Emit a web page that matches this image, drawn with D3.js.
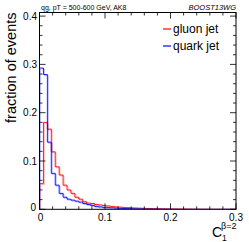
<!DOCTYPE html>
<html><head><meta charset="utf-8">
<script src="https://cdn.jsdelivr.net/npm/d3@7"></script>
<style>body{margin:0;background:#fff}svg{display:block}text{font-family:"Liberation Sans",Arial,sans-serif}</style>
</head><body>
<svg id="c" width="249" height="242"></svg>
<script>
const binWidth = 0.006;
const gluon = [0.053,0.180,0.166,0.119,0.088,0.071,0.050,0.040,0.033,0.025,0.021,0.0157,0.013,0.012,0.010,0.009,0.008,0.007,0.006,0.005,0.0045,0.004,0.0035,0.003,0.0027,0.0024,0.002,0.0018,0.0015,0.0013,0.0011,0.001,0.0008,0.0007,0.0006,0.0005,0.0004,0.0003,0.0003,0.0002,0.0002,0.0001,0.0001,0.0001,0,0,0,0,0,0];
const quark = [0.2925,0.279,0.139,0.0745,0.050,0.033,0.025,0.021,0.019,0.017,0.015,0.012,0.010,0.008,0.006,0.005,0.004,0.0035,0.003,0.0025,0.002,0.0017,0.0014,0.0012,0.001,0.0008,0.0006,0.0005,0.0004,0.0003,0.0003,0.0002,0.0002,0.0001,0.0001,0,0,0,0,0,0,0,0,0,0,0,0,0,0,0];
const xTicks = [0,0.1,0.2,0.3];
const xTickLabels = ["0","0.1","0.2","0.3"];
const yTicks = [0,0.1,0.2,0.3,0.4];
const yTickLabels = ["0","0.1","0.2","0.3","0.4"];
const seriesNames = ["gluon jet","quark jet"];
const seriesColors = ["#ff0000","#0000ff"];

const svg = d3.select("#c");
const L=39.5, R=236, T=12.5, B=209.3;
const x = d3.scaleLinear([0,0.3],[L,R]);
const y = d3.scaleLinear([0,0.4],[B,16.1]);

svg.append("clipPath").attr("id","clip").append("rect").attr("x",L).attr("y",T).attr("width",R-L).attr("height",B-T);

function pts(vals){
  const p=[[0,0]];
  vals.forEach((v,i)=>p.push([i*binWidth,v]));
  p.push([vals.length*binWidth, vals[vals.length-1]]);
  return p;
}
const line = d3.line().x(d=>x(d[0])).y(d=>y(d[1])).curve(d3.curveStepAfter);
const g = svg.append("g").attr("clip-path","url(#clip)");
[[gluon,0],[quark,1]].forEach(([vals,k])=>{
  g.append("path").attr("d",line(pts(vals))).attr("fill","none")
   .attr("stroke",seriesColors[k]).attr("stroke-opacity",0.25).attr("stroke-width",1)
   .attr("transform","translate(1,1)");
  g.append("path").attr("d",line(pts(vals))).attr("fill","none")
   .attr("stroke",seriesColors[k]).attr("stroke-width",0.9);
});

// frame
svg.append("rect").attr("x",L).attr("y",T).attr("width",R-L).attr("height",B-T)
  .attr("fill","none").attr("stroke","#000").attr("stroke-width",1);

// ticks
const tk = svg.append("g").attr("stroke","#000").attr("stroke-width",0.8);
const xMinor = d3.range(0,0.3001,0.02);
xMinor.forEach(v=>{
  const isMaj = xTicks.some(t=>Math.abs(t-v)<1e-6);
  const len = isMaj?6:3;
  tk.append("line").attr("x1",x(v)).attr("x2",x(v)).attr("y1",B).attr("y2",B-len);
  tk.append("line").attr("x1",x(v)).attr("x2",x(v)).attr("y1",T).attr("y2",T+len);
});
const yMinor = d3.range(0,0.4001,0.02);
yMinor.forEach(v=>{
  const isMaj = yTicks.some(t=>Math.abs(t-v)<1e-6);
  const len = isMaj?6:3;
  tk.append("line").attr("y1",y(v)).attr("y2",y(v)).attr("x1",L).attr("x2",L+len);
  tk.append("line").attr("y1",y(v)).attr("y2",y(v)).attr("x1",R).attr("x2",R-len);
});

// tick labels
xTicks.forEach((v,i)=>{
  svg.append("text").attr("x",x(v)+(i===0?1:0)).attr("y",220.5).attr("text-anchor","middle")
    .attr("font-size",10).text(xTickLabels[i]);
});
yTicks.forEach((v,i)=>{
  svg.append("text").attr("x",i===0?36:37).attr("y",y(v)+(i===0?2:3.5)).attr("text-anchor","end")
    .attr("font-size",10).text(yTickLabels[i]);
});

// axis titles
svg.append("text").attr("transform",`translate(15.5,${T}) rotate(-90)`).attr("text-anchor","end")
  .attr("font-size",14.5).text("fraction of events");
svg.append("text").attr("x",222).attr("y",237).attr("text-anchor","end").attr("font-size",14).text("C");
svg.append("text").attr("x",222).attr("y",240.5).attr("font-size",8.5).text("1");
svg.append("text").attr("x",236.5).attr("y",229).attr("text-anchor","end").attr("font-size",9).text("β=2");

// header
svg.append("text").attr("x",41).attr("y",9.5).attr("font-size",7).text("qg, pT = 500-600 GeV, AK8");
svg.append("text").attr("x",236).attr("y",9.5).attr("text-anchor","end").attr("font-size",7.5)
  .attr("font-style","italic").text("BOOST13WG");

// legend
seriesNames.forEach((n,k)=>{
  const ly = [29,46][k];
  svg.append("line").attr("x1",163).attr("x2",171).attr("y1",ly).attr("y2",ly)
    .attr("stroke",seriesColors[k]).attr("stroke-width",1.2);
  svg.append("text").attr("x",173).attr("y",ly+4.3).attr("font-size",12).text(n);
});
</script>
</body></html>
